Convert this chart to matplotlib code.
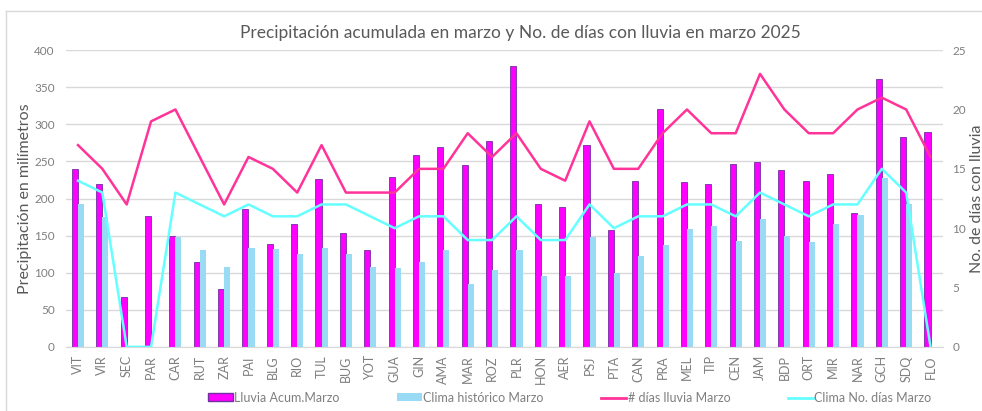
import numpy as np
import matplotlib.pyplot as plt
from matplotlib.lines import Line2D

plt.rcParams["font.family"] = ["Lato", "DejaVu Sans"]

estaciones = ["VIT", "VIR", "SEC", "PAR", "CAR", "RUT", "ZAR", "PAI", "BLG", "RIO",
              "TUL", "BUG", "YOT", "GUA", "GIN", "AMA", "MAR", "ROZ", "PLR", "HON",
              "AER", "PSJ", "PTA", "CAN", "PRA", "MEL", "TIP", "CEN", "JAM", "BDP",
              "ORT", "MIR", "NAR", "GCH", "SDQ", "FLO"]

lluvia_acum = [240, 220, 67, 176, 150, 115, 78, 186, 139, 165,
               226, 154, 131, 229, 258, 269, 245, 278, 378, 193,
               189, 272, 157, 224, 321, 222, 219, 247, 249, 238,
               224, 233, 181, 361, 283, 290]

clima_hist = [193, 175, 0, 0, 148, 130, 108, 133, 132, 125,
              133, 125, 108, 107, 115, 130, 85, 103, 131, 95,
              95, 148, 99, 122, 138, 159, 163, 143, 172, 150,
              141, 166, 178, 228, 192, 0]

dias_lluvia = [17, 15, 12, 19, 20, 16, 12, 16, 15, 13,
               17, 13, 13, 13, 15, 15, 18, 16, 18, 15,
               14, 19, 15, 15, 18, 20, 18, 18, 23, 20,
               18, 18, 20, 21, 20, 16]

clima_dias = [14, 13, 0, 0, 13, 12, 11, 12, 11, 11,
              12, 12, 11, 10, 11, 11, 9, 9, 11, 9,
              9, 12, 10, 11, 11, 12, 12, 11, 13, 12,
              11, 12, 12, 15, 13, 0]

gris = "#595959"
gris_claro = "#7F7F7F"
c_lluvia = "#FF00FF"
c_hist = "#99DAF5"
c_dias = "#FF3399"
c_clima = "#66FFFF"

fig = plt.figure(figsize=(9.82, 4.11), dpi=100)
ax = fig.add_axes([0.067, 0.156, 0.893, 0.722])
ax2 = ax.twinx()

x = np.arange(len(estaciones))
w = 0.25
ax.bar(x - w / 2, lluvia_acum, w, color=c_lluvia, edgecolor="#7030A0", linewidth=0.6, zorder=2)
ax.bar(x + w / 2, clima_hist, w, color=c_hist, linewidth=0, zorder=2)

ax2.plot(x, dias_lluvia, color=c_dias, linewidth=1.8)
ax2.plot(x, clima_dias, color=c_clima, linewidth=1.8)

ax.set_xlim(-0.5, len(x) - 0.5)
ax.set_ylim(0, 400)
ax.set_yticks(range(0, 401, 50))
ax2.set_ylim(0, 25)
ax2.set_yticks(range(0, 26, 5))
ax.grid(axis="y", color="#D9D9D9", linewidth=1)
ax.set_axisbelow(True)

ax.set_xticks(x)
ax.set_xticklabels(estaciones, rotation=90, fontsize=9, color=gris_claro)
for a in (ax, ax2):
    for s in a.spines.values():
        s.set_visible(False)
    a.tick_params(length=0, labelsize=8.5, labelcolor=gris_claro)
ax.spines["bottom"].set_visible(True)
ax.spines["bottom"].set_color("#D9D9D9")
ax.tick_params(axis="x", pad=6, labelsize=9)
ax.tick_params(axis="y", pad=8)
ax2.tick_params(axis="y", pad=7)

ax.set_ylabel("Precipitación en milímetros", fontsize=11.5, color=gris)
ax.yaxis.set_label_coords(-0.038, 0.5)
ax2.set_ylabel("No. de días con lluvia", fontsize=11.5, color=gris)
ax2.yaxis.set_label_coords(1.031, 0.5)
fig.text(0.53, 0.92, "Precipitación acumulada en marzo y No. de días con lluvia en marzo 2025",
         fontsize=12.5, color=gris, ha="center", va="center")

handles = [
    plt.Rectangle((0, 0), 1, 1, facecolor=c_lluvia, edgecolor="#7030A0"),
    plt.Rectangle((0, 0), 1, 1, facecolor=c_hist),
    Line2D([], [], color=c_dias, linewidth=2),
    Line2D([], [], color=c_clima, linewidth=2),
]
labels = ["Lluvia Acum.Marzo", "Clima histórico Marzo", "# días lluvia Marzo", "Clima No. días Marzo"]
fig.legend(handles, labels, loc="center", bbox_to_anchor=(0.58, 0.032), ncol=4, frameon=False,
           fontsize=9, labelcolor=gris_claro, handlelength=2.0, handleheight=0.6,
           handletextpad=0.1, columnspacing=4.6)

# chart border
fig.add_artist(Line2D([6 / 982, 1], [1 - 11 / 411] * 2, transform=fig.transFigure, color="#D9D9D9", linewidth=1))
fig.add_artist(Line2D([6 / 982] * 2, [0, 1 - 11 / 411], transform=fig.transFigure, color="#D9D9D9", linewidth=1))

fig.savefig("out.png", dpi=100)
